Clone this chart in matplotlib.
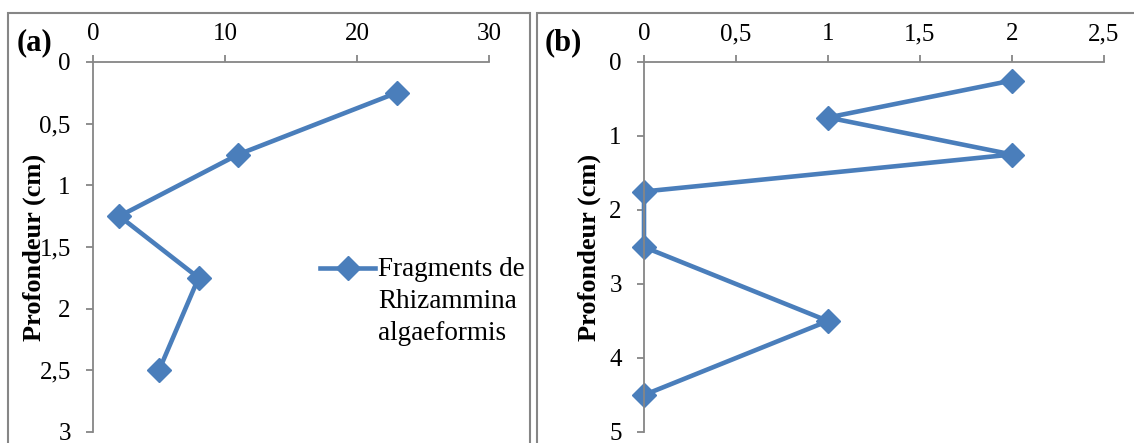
import matplotlib.pyplot as plt
from matplotlib.patches import Rectangle
from matplotlib.lines import Line2D
from matplotlib.ticker import FuncFormatter

# (a) fragments de Rhizammina algaeformis
depth_a = [0.25, 0.75, 1.25, 1.75, 2.5]
count_a = [23, 11, 2, 8, 5]
# (b)
depth_b = [0.25, 0.75, 1.25, 1.75, 2.5, 3.5, 4.5]
count_b = [2, 1, 2, 0, 0, 1, 0]

xticks_a = [0, 10, 20, 30]
yticks_a = [0, 0.5, 1, 1.5, 2, 2.5, 3]
xticks_b = [0, 0.5, 1, 1.5, 2, 2.5]
yticks_b = [0, 1, 2, 3, 4, 5]
legend_label = 'Fragments de\nRhizammina\nalgaeformis'

plt.rcParams['font.family'] = 'Liberation Serif'
W, H = 1134, 443
blue = '#4a7ebb'
grey = '#868686'

fig = plt.figure(figsize=(W / 100, H / 100), dpi=100)


def comma(v, pos):
    return ('%g' % v).replace('.', ',')


def panel(x0, x1, y0, y1):
    return fig.add_axes([x0 / W, 1 - y1 / H, (x1 - x0) / W, (y1 - y0) / H])


def style(ax, xt, yt, xmax, ymax):
    ax.set_xlim(0, xmax)
    ax.set_ylim(ymax, 0)
    ax.set_xticks(xt)
    ax.set_yticks(yt)
    ax.xaxis.set_major_formatter(FuncFormatter(comma))
    ax.yaxis.set_major_formatter(FuncFormatter(comma))
    ax.xaxis.tick_top()
    for s in ['right', 'bottom']:
        ax.spines[s].set_visible(False)
    for s in ['left', 'top']:
        ax.spines[s].set_color(grey)
        ax.spines[s].set_linewidth(1.3)
    ax.tick_params(axis='both', direction='out', length=5, width=1.3,
                   color=grey, labelsize=18)
    ax.tick_params(axis='x', pad=7)
    ax.tick_params(axis='y', pad=11)
    ax.patch.set_alpha(0)


# panel frames
fig.add_artist(Rectangle((8 / W, -0.1), (530 - 8) / W, 1.1 - 13 / H,
                         transform=fig.transFigure, fill=False,
                         edgecolor=grey, lw=1.5))
fig.add_artist(Rectangle((537 / W, -0.1), 0.6, 1.1 - 13 / H,
                         transform=fig.transFigure, fill=False,
                         edgecolor=grey, lw=1.5))

ax1 = panel(93, 489, 62, 432)
ax1.plot(count_a, depth_a, color=blue, lw=3.3, marker='D', ms=12, clip_on=False)
style(ax1, xticks_a, yticks_a, 30, 3)
ax1.set_ylabel('Profondeur (cm)', fontsize=19, fontweight='bold', labelpad=-4.5)
fig.text(17 / W, 1 - 43 / H, '(a)', fontsize=22, fontweight='bold',
         va='center', ha='left')

# legend drawn by hand so the handle sits on the first text line
ly = 1 - 268 / H
fig.add_artist(Line2D([320 / W, 375 / W], [ly, ly], color=blue, lw=3.3,
                      transform=fig.transFigure))
fig.add_artist(Line2D([347.5 / W], [ly], color=blue, marker='D', ms=12,
                      transform=fig.transFigure))
fig.text(378 / W, 1 - 257 / H, legend_label, fontsize=19.5, va='top',
         ha='left', linespacing=1.38)

ax2 = panel(644, 1104, 62, 432)
ax2.plot(count_b, depth_b, color=blue, lw=3.3, marker='D', ms=12, clip_on=False)
style(ax2, xticks_b, yticks_b, 2.5, 5)
ax2.set_ylabel('Profondeur (cm)', fontsize=19, fontweight='bold', labelpad=6)
fig.text(545 / W, 1 - 43 / H, '(b)', fontsize=22, fontweight='bold',
         va='center', ha='left')

fig.savefig('out.png', dpi=100)
